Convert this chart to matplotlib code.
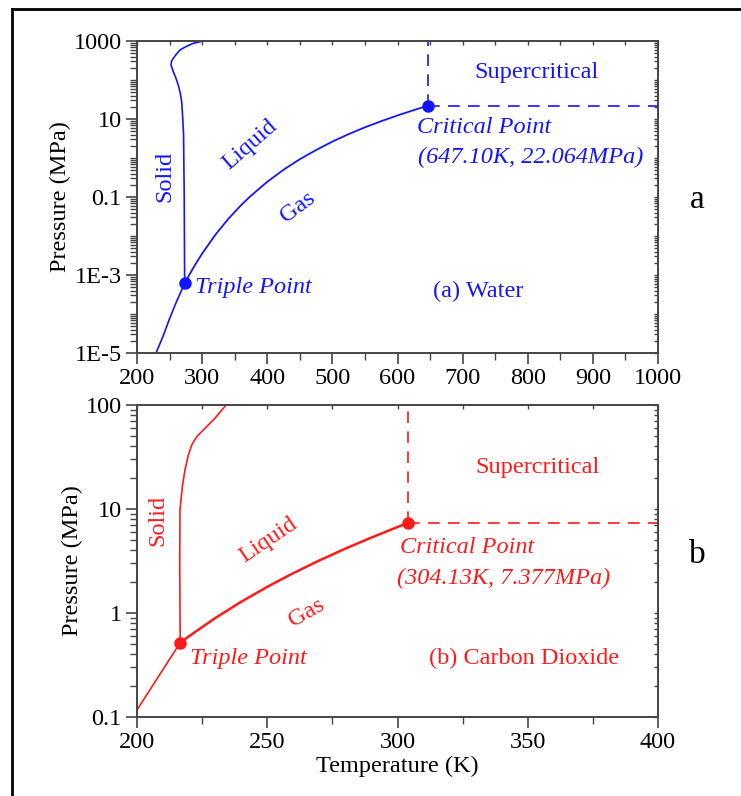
import matplotlib
matplotlib.use("Agg")
import matplotlib.pyplot as plt
from matplotlib.lines import Line2D
from matplotlib.ticker import FixedLocator, NullFormatter

plt.rcParams['font.family'] = ['Liberation Serif', 'DejaVu Serif']

# ---- water (top panel), T in K, P in MPa ----
w_sub_T = [228.0, 240.0, 250.0, 260.0, 273.16]
w_sub_P = [9.0e-6, 2.7e-5, 7.6e-5, 1.96e-4, 6.1e-4]
w_vap_T = [273.16, 280.0, 290.0, 300.0, 320.0, 340.0, 360.0, 373.15, 400.0, 425.0, 450.0,
           475.0, 500.0, 525.0, 550.0, 575.0, 600.0, 625.0, 647.1]
w_vap_P = [6.1e-4, 9.9e-4, 1.92e-3, 3.54e-3, 0.0106, 0.0273, 0.0622, 0.1013, 0.2458, 0.5,
           0.932, 1.6, 2.639, 4.1, 6.12, 8.8, 12.34, 16.9, 22.064]
w_melt_T = [273.16, 272.5, 271.5, 270.2, 268.6, 266.5, 263.4, 259.5, 255.7, 252.2, 253.0,
            255.7, 260.0, 266.0, 276.0, 286.4, 302.0]
w_melt_P = [6.1e-4, 0.1, 3.9, 10.7, 27.5, 45.0, 74.0, 115.0, 163.0, 243.0, 300.0,
            360.0, 450.0, 589.0, 730.0, 871.0, 1000.0]
w_triple = (273.16, 6.1e-4)
w_crit = (647.1, 22.064)

# ---- carbon dioxide (bottom panel) ----
c_sub_T = [200.0, 208.0, 216.58]
c_sub_P = [0.117, 0.24, 0.5185]
c_vap_T = [216.58, 220.0, 230.0, 240.0, 250.0, 260.0, 270.0, 280.0, 290.0, 300.0, 304.13]
c_vap_P = [0.5185, 0.599, 0.893, 1.283, 1.785, 2.419, 3.203, 4.161, 5.318, 6.713, 7.377]
c_melt_T = [216.58, 216.4, 216.5, 217.4, 218.4, 219.7, 221.0, 222.9, 226.1, 229.9, 234.2]
c_melt_P = [0.5185, 3.0, 9.8, 16.4, 23.7, 33.0, 41.2, 49.5, 59.7, 74.5, 100.0]
c_triple = (216.58, 0.5185)
c_crit = (304.13, 7.377)

w_yticks = [1e-5, 1e-3, 0.1, 10, 1000]
w_ylabels = ['1E-5', '1E-3', '0.1', '10', '1000']
c_yticks = [0.1, 1, 10, 100]
c_ylabels = ['0.1', '1', '10', '100']

BLUE = '#1414ff'
RED = '#ff1a1a'
FS = 17.5
SPINE = '#444444'

fig = plt.figure(figsize=(7.41, 7.96), dpi=100)
ax1 = fig.add_axes([0.1849, 0.5565, 0.7031, 0.392])
ax2 = fig.add_axes([0.1849, 0.0992, 0.7031, 0.392])


def style_axes(ax, xlim, ylim, xmaj, xmin, yticks, ylabels, sub_decades):
    ax.set_yscale('log')
    ax.set_xlim(*xlim)
    ax.set_ylim(*ylim)
    ax.xaxis.set_major_locator(FixedLocator(xmaj))
    ax.xaxis.set_minor_locator(FixedLocator(xmin))
    ax.set_yticks(yticks)
    ax.set_yticklabels(ylabels)
    minors = []
    for d in sub_decades:
        for k in range(1, 10):
            v = k * d
            if v not in yticks and ylim[0] < v < ylim[1]:
                minors.append(v)
    ax.yaxis.set_minor_locator(FixedLocator(minors))
    ax.yaxis.set_minor_formatter(NullFormatter())
    ax.tick_params(which='major', direction='out', length=8, width=1.2, color=SPINE,
                   labelsize=FS, pad=3)
    ax.tick_params(which='minor', direction='out', length=5, width=1.0, color=SPINE)
    for s in ax.spines.values():
        s.set_color(SPINE)
        s.set_linewidth(1.4)
    # inward ticks on the top and right edges
    top = ax.secondary_xaxis('top')
    top.xaxis.set_major_locator(FixedLocator(xmaj))
    top.xaxis.set_minor_locator(FixedLocator(xmin))
    top.tick_params(which='both', direction='in', length=3, width=1.0, color=SPINE,
                    labeltop=False)
    right = ax.secondary_yaxis('right')
    right.yaxis.set_major_locator(FixedLocator(yticks))
    right.yaxis.set_minor_locator(FixedLocator(minors))
    right.tick_params(which='both', direction='in', length=3, width=1.0, color=SPINE,
                      labelright=False)
    for sa in (top, right):
        for s in sa.spines.values():
            s.set_visible(False)
    ax.set_ylabel('Pressure (MPa)', fontsize=FS, labelpad=2)


def draw_diagram(ax, col, sub, vap, melt, triple, crit, lw_vap):
    ax.plot(sub[0], sub[1], color=col, lw=1.2)
    ax.plot(vap[0], vap[1], color=col, lw=lw_vap)
    ax.plot(melt[0], melt[1], color=col, lw=1.2)
    ax.plot([crit[0], crit[0]], [crit[1], ax.get_ylim()[1]], color=col, lw=1.2,
            dashes=(7, 5))
    ax.plot([crit[0], ax.get_xlim()[1]], [crit[1], crit[1]], color=col, lw=1.2,
            dashes=(7, 5))
    ax.plot(*triple, 'o', color=col, ms=8, zorder=5)
    ax.plot(*crit, 'o', color=col, ms=8, zorder=5)


# top panel: water
style_axes(ax1, (200, 1000), (1e-5, 1000), range(200, 1001, 100), range(250, 1000, 100),
           w_yticks, w_ylabels, [1e-5, 1e-4, 1e-3, 1e-2, 0.1, 1, 10, 100])
draw_diagram(ax1, BLUE, (w_sub_T, w_sub_P), (w_vap_T, w_vap_P), (w_melt_T, w_melt_P),
             w_triple, w_crit, 1.3)
ax1.text(814, 160, 'Supercritical', color=BLUE, fontsize=FS, ha='center', va='center')
ax1.text(630, 6.2, 'Critical Point', color=BLUE, fontsize=FS, style='italic', va='center')
ax1.text(631, 1.06, '(647.10K, 22.064MPa)', color=BLUE, fontsize=FS, style='italic',
         va='center')
ax1.text(724, 3.9e-4, '(a) Water', color=BLUE, fontsize=FS, ha='center', va='center')
ax1.text(243, 0.33, 'Solid', color=BLUE, fontsize=FS, rotation=90, ha='center', va='center')
ax1.text(374, 2.15, 'Liquid', color=BLUE, fontsize=FS, rotation=41, ha='center',
         va='center', rotation_mode='anchor')
ax1.text(447, 0.055, 'Gas', color=BLUE, fontsize=FS, rotation=37, ha='center',
         va='center', rotation_mode='anchor')
ax1.text(289, 4.9e-4, 'Triple Point', color=BLUE, fontsize=FS, style='italic', va='center')

# bottom panel: carbon dioxide
style_axes(ax2, (200, 400), (0.1, 100), range(200, 401, 50), range(225, 400, 50),
           c_yticks, c_ylabels, [0.1, 1, 10])
draw_diagram(ax2, RED, (c_sub_T, c_sub_P), (c_vap_T, c_vap_P), (c_melt_T, c_melt_P),
             c_triple, c_crit, 1.8)
ax2.text(353.6, 24.8, 'Supercritical', color=RED, fontsize=FS, ha='center', va='center')
ax2.text(301, 4.3, 'Critical Point', color=RED, fontsize=FS, style='italic', va='center')
ax2.text(299.8, 2.17, '(304.13K, 7.377MPa)', color=RED, fontsize=FS, style='italic',
         va='center')
ax2.text(348.6, 0.369, '(b) Carbon Dioxide', color=RED, fontsize=FS, ha='center',
         va='center')
ax2.text(208, 7.8, 'Solid', color=RED, fontsize=FS, rotation=90, ha='center', va='center')
ax2.text(250.3, 5.0, 'Liquid', color=RED, fontsize=FS, rotation=34, ha='center',
         va='center', rotation_mode='anchor')
ax2.text(265.3, 1.0, 'Gas', color=RED, fontsize=FS, rotation=30, ha='center',
         va='center', rotation_mode='anchor')
ax2.text(220.3, 0.369, 'Triple Point', color=RED, fontsize=FS, style='italic', va='center')
ax2.set_xlabel('Temperature (K)', fontsize=FS, labelpad=2)

# panel letters and the outer frame
fig.text(697 / 741, 1 - 200 / 796, 'a', fontsize=24, ha='center', va='center')
fig.text(697 / 741, 1 - 555 / 796, 'b', fontsize=24, ha='center', va='center')
fig.add_artist(Line2D([12 / 741, 12 / 741], [0, 1 - 9 / 796], color='black', lw=2))
fig.add_artist(Line2D([12 / 741, 1], [1 - 9 / 796, 1 - 9 / 796], color='black', lw=2))

fig.savefig('out.png', dpi=100)
